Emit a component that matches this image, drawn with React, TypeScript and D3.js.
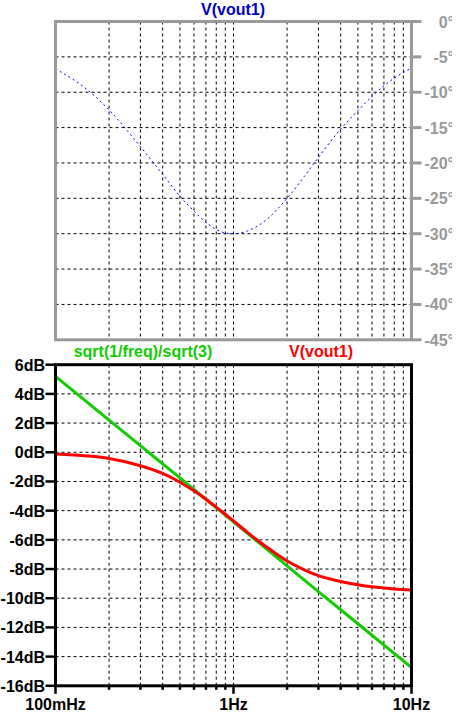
import { useEffect, useRef } from 'react';
import * as d3 from 'd3';

// frequency points (Hz)
const freqs = [0.1, 0.15, 0.2, 0.3, 0.4, 0.5, 0.6, 0.7, 0.8, 0.9, 1, 1.2, 1.5, 2, 2.5, 3, 4, 5, 6, 7, 8, 10];
// V(vout1) magnitude, dB
const voutMag = [-0.12, -0.25, -0.42, -0.92, -1.45, -2.05, -2.64, -3.22, -3.76, -4.25, -4.7, -5.5, -6.4, -7.45, -8.05, -8.45, -8.85, -9.08, -9.22, -9.3, -9.36, -9.43];
// V(vout1) phase, degrees
const voutPhase = [-6.7, -9.6, -12.5, -17.7, -21.6, -24.7, -26.8, -28.4, -29.4, -29.9, -30.0, -29.6, -28.2, -25.0, -21.9, -19.2, -15.2, -12.6, -10.6, -9.1, -8.0, -6.6];

// sqrt(1/freq)/sqrt(3), dB
const refFreqs = [0.1, 0.2, 0.3, 0.5, 1, 2, 3, 5, 10];
const refMag = [5.2, 2.2, 0.45, -1.75, -4.77, -7.78, -9.55, -11.75, -14.75];

const dbTicks = [6, 4, 2, 0, -2, -4, -6, -8, -10, -12, -14, -16];
const phaseTicks = [0, -5, -10, -15, -20, -25, -30, -35, -40, -45];
const freqTicks = [0.1, 1, 10];
const freqLabels = ['100mHz', '1Hz', '10Hz'];

const W = 461;
const H = 716;
const FONT = '"Liberation Sans", Arial, sans-serif';

export default function App() {
  const svgRef = useRef<SVGSVGElement>(null);

  useEffect(() => {
    if (!svgRef.current) return;
    const svg = d3.select(svgRef.current);
    svg.selectAll('*').remove();

    const left = 55.5;
    const right = 411.5;
    const top1 = 21.5, bot1 = 339.8;
    const top2 = 364.7, bot2 = 685.8;

    const x = d3.scaleLog().domain([0.1, 10]).range([left, right]);
    const yPh = d3.scaleLinear().domain([-45, 0]).range([bot1, top1]);
    const yDb = d3.scaleLinear().domain([-16, 6]).range([bot2, top2]);

    const gridX = x.ticks().filter(v => v > 0.1 && v < 10);

    svg.append('clipPath').attr('id', 'rclip')
      .append('rect').attr('x', 0).attr('y', 0).attr('width', 452).attr('height', H);

    // ---- top pane (phase) ----
    const g1 = svg.append('g');

    g1.selectAll('.vgrid')
      .data(gridX)
      .join('line')
      .attr('x1', d => x(d)).attr('x2', d => x(d))
      .attr('y1', top1).attr('y2', bot1)
      .attr('stroke', '#000').attr('stroke-width', 1)
      .attr('stroke-dasharray', '3,3');

    g1.selectAll('.hgrid')
      .data(phaseTicks.filter(v => v !== 0 && v !== -45))
      .join('line')
      .attr('x1', left).attr('x2', right)
      .attr('y1', d => yPh(d)).attr('y2', d => yPh(d))
      .attr('stroke', '#000').attr('stroke-width', 1)
      .attr('stroke-dasharray', '3,3');

    const phaseLine = d3.line<number>()
      .x((_, i) => x(freqs[i]))
      .y(d => yPh(d))
      .curve(d3.curveMonotoneX);

    g1.append('path')
      .datum(voutPhase)
      .attr('fill', 'none')
      .attr('stroke', '#0000ff')
      .attr('stroke-width', 1)
      .attr('stroke-dasharray', '2,3')
      .attr('d', phaseLine);

    g1.append('rect')
      .attr('x', left).attr('y', top1)
      .attr('width', right - left).attr('height', bot1 - top1)
      .attr('fill', 'none').attr('stroke', '#999').attr('stroke-width', 3);

    // right phase axis
    g1.selectAll('.ptick')
      .data(phaseTicks)
      .join('line')
      .attr('x1', right).attr('x2', right + 10)
      .attr('y1', d => yPh(d)).attr('y2', d => yPh(d))
      .attr('stroke', '#999').attr('stroke-width', 3);

    g1.selectAll('.plabel')
      .data(phaseTicks)
      .join('text')
      .attr('x', 454)
      .attr('y', d => yPh(d) + 6)
      .attr('text-anchor', 'end')
      .attr('clip-path', 'url(#rclip)')
      .style('font-family', FONT).style('font-size', '16px').style('font-weight', 'bold')
      .style('fill', '#999')
      .text(d => `${d}°`);

    svg.append('text')
      .attr('x', 233).attr('y', 15)
      .attr('text-anchor', 'middle')
      .style('font-family', FONT).style('font-size', '16px').style('font-weight', 'bold')
      .style('fill', '#0000cc')
      .text('V(vout1)');

    // ---- bottom pane (magnitude) ----
    const g2 = svg.append('g');

    g2.selectAll('.vgrid')
      .data(gridX)
      .join('line')
      .attr('x1', d => x(d)).attr('x2', d => x(d))
      .attr('y1', top2).attr('y2', bot2)
      .attr('stroke', '#000').attr('stroke-width', 1)
      .attr('stroke-dasharray', '3,3');

    g2.selectAll('.hgrid')
      .data(dbTicks.filter(v => v !== 6 && v !== -16))
      .join('line')
      .attr('x1', left).attr('x2', right)
      .attr('y1', d => yDb(d)).attr('y2', d => yDb(d))
      .attr('stroke', '#000').attr('stroke-width', 1)
      .attr('stroke-dasharray', '3,3');

    const refLine = d3.line<number>()
      .x((_, i) => x(refFreqs[i]))
      .y(d => yDb(d))
      .curve(d3.curveMonotoneX);

    const magLine = d3.line<number>()
      .x((_, i) => x(freqs[i]))
      .y(d => yDb(d))
      .curve(d3.curveMonotoneX);

    g2.append('path')
      .datum(refMag)
      .attr('fill', 'none')
      .attr('stroke', '#11cc00')
      .attr('stroke-width', 3)
      .attr('d', refLine);

    g2.append('path')
      .datum(voutMag)
      .attr('fill', 'none')
      .attr('stroke', '#ff0000')
      .attr('stroke-width', 3)
      .attr('d', magLine);

    g2.append('rect')
      .attr('x', left).attr('y', top2)
      .attr('width', right - left).attr('height', bot2 - top2)
      .attr('fill', 'none').attr('stroke', '#000').attr('stroke-width', 3);

    // left dB axis
    g2.selectAll('.dtick')
      .data(dbTicks)
      .join('line')
      .attr('x1', left - 10).attr('x2', left)
      .attr('y1', d => yDb(d)).attr('y2', d => yDb(d))
      .attr('stroke', '#000').attr('stroke-width', 2.5);

    g2.selectAll('.dlabel')
      .data(dbTicks)
      .join('text')
      .attr('x', 45)
      .attr('y', d => yDb(d) + 6)
      .attr('text-anchor', 'end')
      .style('font-family', FONT).style('font-size', '16px').style('font-weight', 'bold')
      .style('fill', '#000')
      .text(d => `${d}dB`);

    // bottom frequency axis
    g2.selectAll('.ftick')
      .data(x.ticks())
      .join('line')
      .attr('x1', d => x(d)).attr('x2', d => x(d))
      .attr('y1', bot2)
      .attr('y2', d => bot2 + (freqTicks.includes(d) ? 8 : 4))
      .attr('stroke', '#000').attr('stroke-width', 2.5);

    g2.selectAll('.flabel')
      .data(freqTicks)
      .join('text')
      .attr('x', d => x(d))
      .attr('y', 710)
      .attr('text-anchor', 'middle')
      .style('font-family', FONT).style('font-size', '16px').style('font-weight', 'bold')
      .style('fill', '#000')
      .text((_, i) => freqLabels[i]);

    // legend
    svg.append('text')
      .attr('x', 143).attr('y', 357)
      .attr('text-anchor', 'middle')
      .style('font-family', FONT).style('font-size', '16px').style('font-weight', 'bold')
      .style('fill', '#11cc00')
      .text('sqrt(1/freq)/sqrt(3)');

    svg.append('text')
      .attr('x', 321).attr('y', 357)
      .attr('text-anchor', 'middle')
      .style('font-family', FONT).style('font-size', '16px').style('font-weight', 'bold')
      .style('fill', '#ff0000')
      .text('V(vout1)');
  }, []);

  return (
    <svg
      ref={svgRef}
      width={W}
      height={H}
      viewBox={`0 0 ${W} ${H}`}
      style={{ position: 'absolute', left: 0, top: 0, background: '#fff' }}
    />
  );
}
